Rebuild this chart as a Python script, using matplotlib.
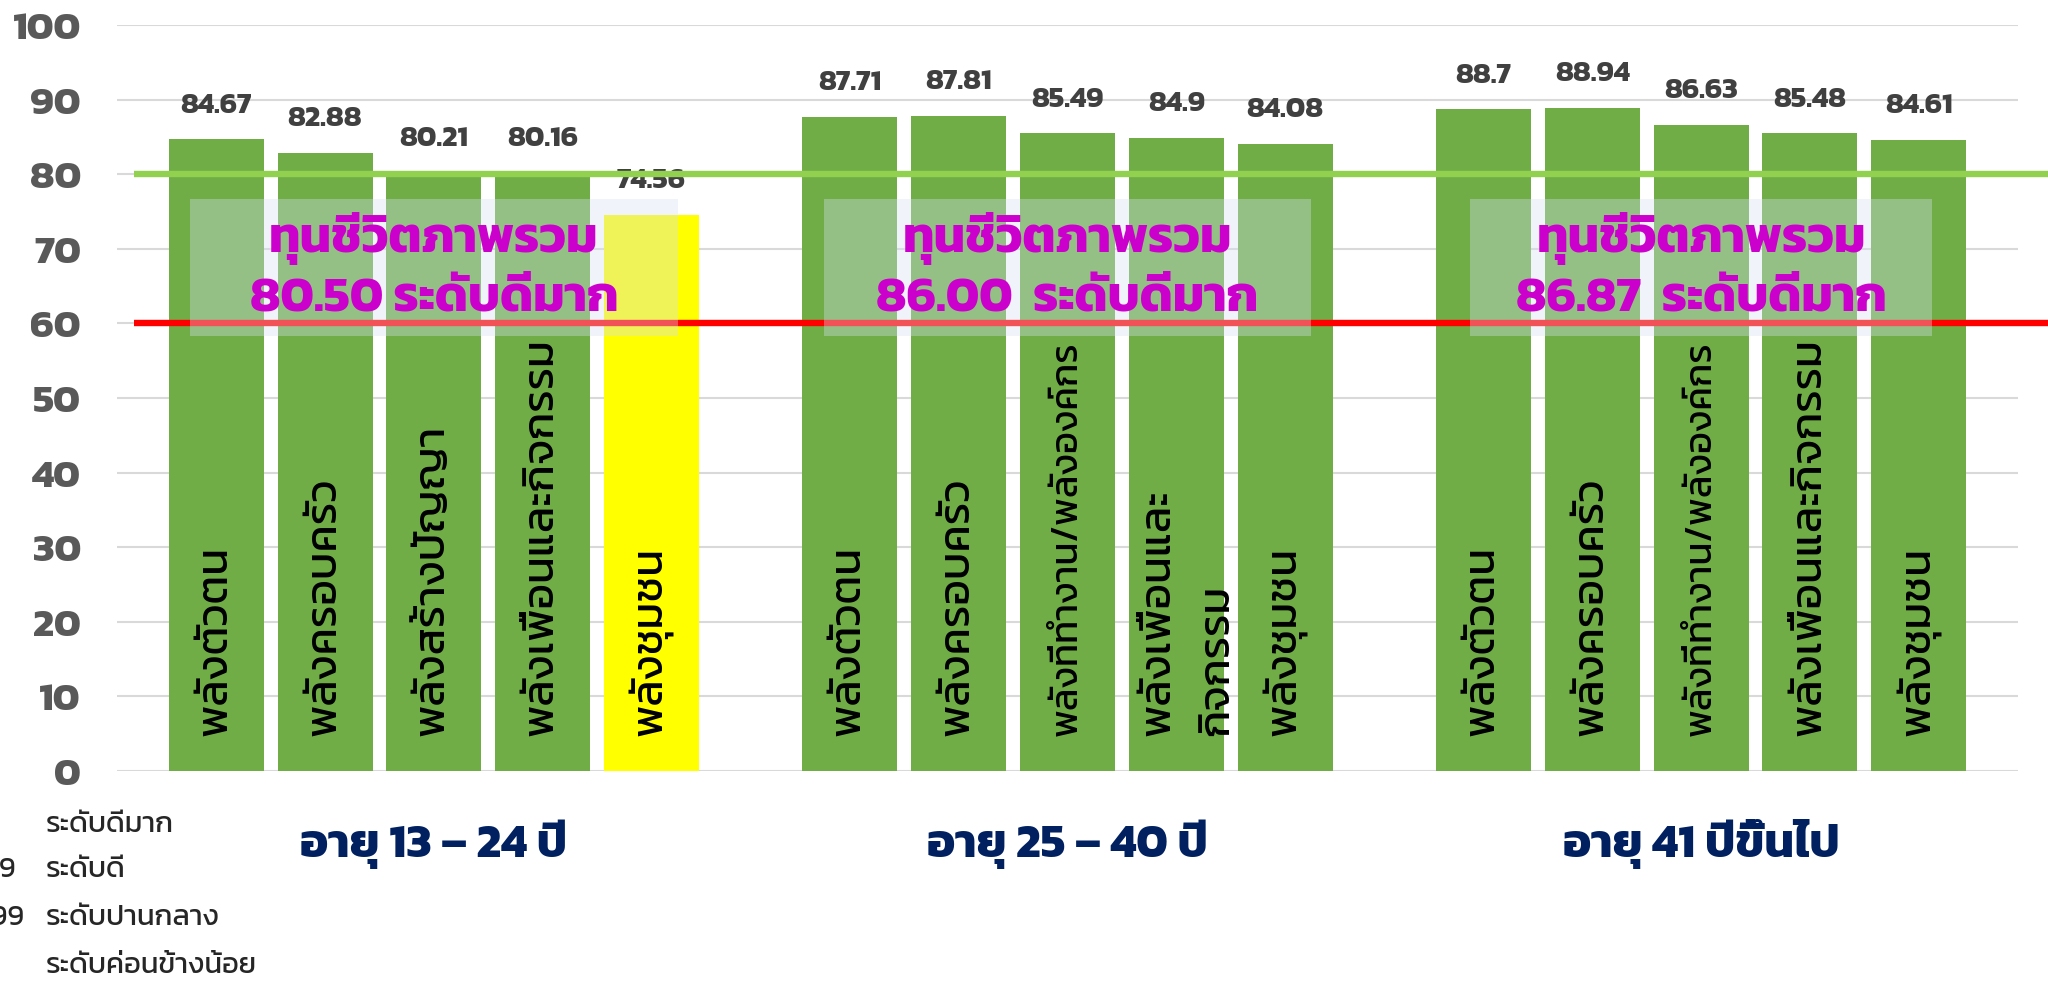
import matplotlib

matplotlib.use("Agg")
import matplotlib.pyplot as plt
from matplotlib.patches import Rectangle
import numpy as np

plt.rcParams["font.family"] = ["Kanit", "Prompt", "Bai Jamjuree", "Loma", "DejaVu Sans"]

GROUPS = ["อายุ 13 – 24 ปี", "อายุ 25 – 40 ปี", "อายุ 41 ปีขึ้นไป"]

SCORES_13_24 = [84.67, 82.88, 80.21, 80.16, 74.56]
SCORES_25_40 = [87.71, 87.81, 85.49, 84.9, 84.08]
SCORES_41_UP = [88.7, 88.94, 86.63, 85.48, 84.61]

LABELS_13_24 = ["พลังตัวตน", "พลังครอบครัว", "พลังสร้างปัญญา", "พลังเพื่อนและกิจกรรม", "พลังชุมชน"]
LABELS_25_40 = ["พลังตัวตน", "พลังครอบครัว", "พลังที่ทำงาน/พลังองค์กร", "พลังเพื่อนและ\nกิจกรรม", "พลังชุมชน"]
LABELS_41_UP = ["พลังตัวตน", "พลังครอบครัว", "พลังที่ทำงาน/พลังองค์กร", "พลังเพื่อนและกิจกรรม", "พลังชุมชน"]

OVERALL_TITLE = "ทุนชีวิตภาพรวม"
OVERALL_TEXT = ["80.50 ระดับดีมาก", "86.00  ระดับดีมาก", "86.87  ระดับดีมาก"]

THRESHOLDS = [80, 60]
THRESHOLD_COLORS = ["#92D050", "#FF0000"]

LEVEL_RANGES = ["", "60 – 79.99", "40 – 59.99", ""]
LEVEL_NAMES = ["ระดับดีมาก", "ระดับดี", "ระดับปานกลาง", "ระดับค่อนข้างน้อย"]

GREEN = "#70AD47"
YELLOW = "#FFFF00"
W, H = 2048, 995


def main() -> None:
    fig = plt.figure(figsize=(W / 100, H / 100), dpi=100, facecolor="white")
    ax = fig.add_axes([117 / W, 1 - 772 / H, 1901 / W, 746 / H])

    scores = [SCORES_13_24, SCORES_25_40, SCORES_41_UP]
    labels = [LABELS_13_24, LABELS_25_40, LABELS_41_UP]
    step = 0.1717
    width = 0.150
    box_widths = [0.77, 0.77, 0.73]

    for g, (vals, labs) in enumerate(zip(scores, labels)):
        xs = g + (np.arange(len(vals)) - 2) * step
        colors = [GREEN] * len(vals)
        if g == 0:
            colors[-1] = YELLOW
        ax.bar(xs, vals, width=width, color=colors, zorder=2)
        for x, v, lab in zip(xs, vals, labs):
            ax.annotate(
                str(v),
                (x, v),
                xytext=(0, 25),
                textcoords="offset points",
                ha="center",
                va="center",
                fontsize=21,
                fontweight="bold",
                color="#404040",
                zorder=3,
            )
            ax.text(
                x + (0.02 if "\n" in lab else 0),
                4.8,
                lab,
                rotation=90,
                ha="center",
                va="bottom",
                multialignment="left",
                fontsize=27.5 if "/" in lab else 32,
                color="black",
                linespacing=1.7,
                zorder=4,
            )
        # overlay summary box
        bw = box_widths[g]
        ax.add_patch(
            Rectangle((g - bw / 2, 58.3), bw, 18.4, facecolor="#D7E1F1", edgecolor="none", alpha=0.37, zorder=6)
        )
        ax.text(g, 71.5, OVERALL_TITLE, ha="center", va="center", fontsize=36, fontweight="bold", color="#CC00CC", zorder=7)
        ax.text(g, 63.4, OVERALL_TEXT[g], ha="center", va="center", fontsize=36, fontweight="bold", color="#CC00CC", zorder=7)
        ax.text(
            g,
            -0.097,
            GROUPS[g],
            transform=ax.get_xaxis_transform(),
            ha="center",
            va="center",
            fontsize=34,
            fontweight="bold",
            color="#002060",
        )

    for level, color in zip(THRESHOLDS, THRESHOLD_COLORS):
        ax.plot([0.009, 1.02], [level, level], transform=ax.get_yaxis_transform(), color=color,
                linewidth=4.6, solid_capstyle="butt", clip_on=False, zorder=5)

    ax.set_xlim(-0.5, 2.5)
    ax.set_ylim(0, 100)
    ax.set_yticks(np.arange(0, 101, 10))
    ax.set_xticks([])
    ax.grid(True, axis="y", color="#D9D9D9", linewidth=1.5)
    ax.set_axisbelow(True)
    for spine in ax.spines.values():
        spine.set_visible(False)
    ax.tick_params(axis="y", length=0, pad=26, labelsize=29, labelcolor="#595959")
    for t in ax.get_yticklabels():
        t.set_fontweight("bold")

    ys = [825, 870, 918, 966]
    ends = [20, 16, 24, 20]
    for y, rng, name, end in zip(ys, LEVEL_RANGES, LEVEL_NAMES, ends):
        fig.text(46 / W, 1 - y / H, name, ha="left", va="center", fontsize=21, color="#262626")
        if rng:
            fig.text(end / W, 1 - y / H, rng, ha="right", va="center", fontsize=21, color="#262626")

    fig.savefig("out.png", dpi=100, facecolor="white")
    plt.close(fig)


if __name__ == "__main__":
    main()
